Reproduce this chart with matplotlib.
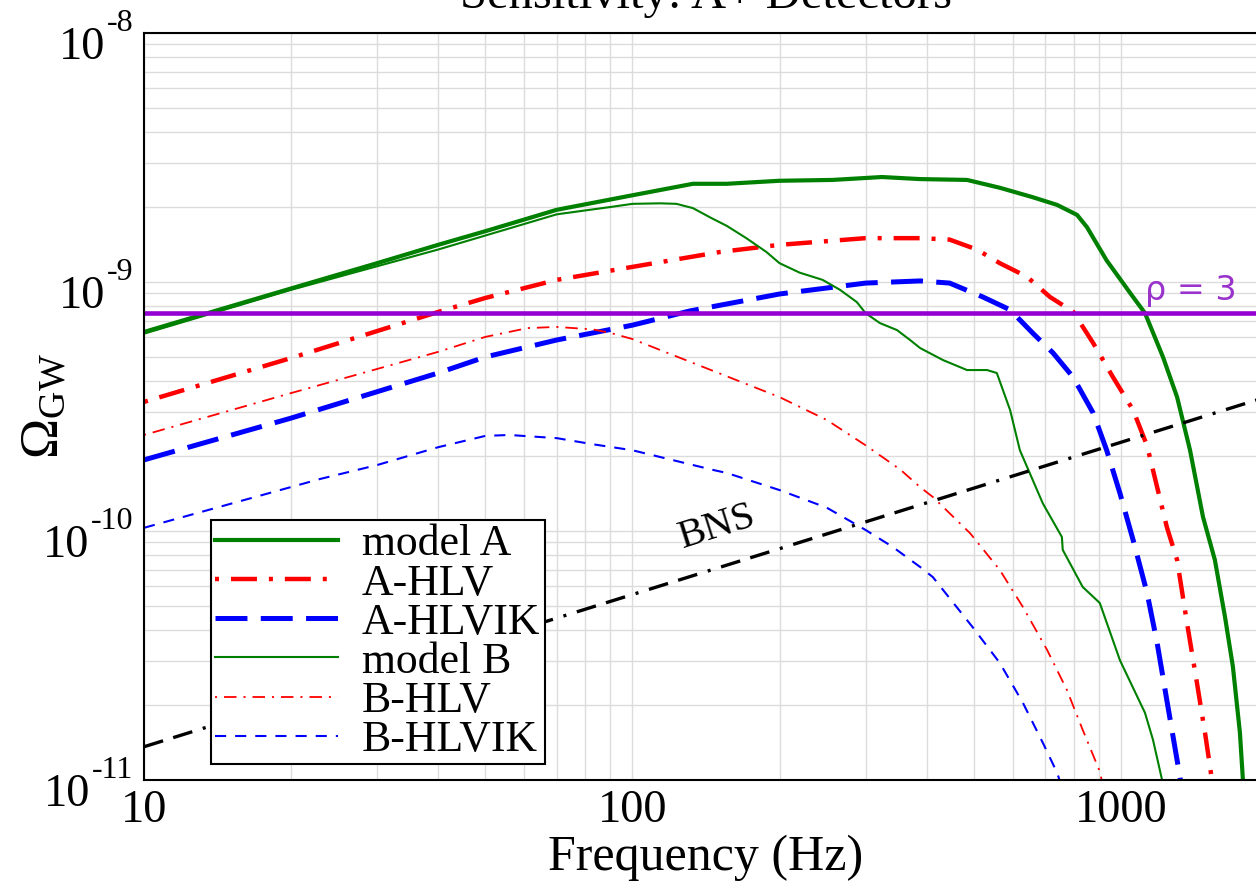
import numpy as np
import matplotlib
matplotlib.use('Agg')
import matplotlib.pyplot as plt
from matplotlib.ticker import FuncFormatter, NullFormatter, LogLocator
from matplotlib.transforms import offset_copy

# Значения (частота в Гц, Omega_GW)
freq_A = [10, 20, 30, 40, 50, 70, 100, 133, 156, 200, 257, 324, 388, 484, 565, 660,
          740, 813, 852, 935, 1059, 1120, 1219, 1303, 1385, 1472, 1557, 1633, 1695,
          1752, 1777, 1800]
omega_A = [6.3e-10, 9.42e-10, 1.19e-9, 1.41e-9, 1.6e-9, 1.95e-9, 2.23e-9, 2.48e-9,
           2.48e-9, 2.55e-9, 2.57e-9, 2.64e-9, 2.59e-9, 2.57e-9, 2.39e-9, 2.19e-9,
           2.04e-9, 1.86e-9, 1.66e-9, 1.22e-9, 8.7e-10, 7.5e-10, 5.0e-10, 3.45e-10,
           2.11e-10, 1.14e-10, 7.65e-11, 4.52e-11, 2.85e-11, 1.55e-11, 1.0e-11, 7e-12]

freq_A_hlv = [10, 20, 40, 50, 70, 100, 151, 200, 300, 388, 446, 507, 565, 642, 716,
              798, 877, 963, 1059, 1131, 1241, 1303, 1365, 1431, 1486, 1527, 1545]
omega_A_hlv = [3.3e-10, 4.95e-10, 7.58e-10, 8.63e-10, 1.02e-9, 1.15e-9, 1.32e-9,
               1.41e-9, 1.5e-9, 1.5e-9, 1.48e-9, 1.35e-9, 1.19e-9, 1.05e-9, 8.7e-10,
               7.6e-10, 5.69e-10, 4.15e-10, 3.06e-10, 2.2e-10, 1.04e-10, 7.65e-11,
               4.28e-11, 2.45e-11, 1.55e-11, 1.08e-11, 9e-12]

freq_A_hlvik = [10, 20, 40, 50, 70, 100, 131, 200, 300, 388, 446, 522, 593, 660, 726,
                798, 877, 935, 995, 1059, 1131, 1186, 1241, 1310, 1335]
omega_A_hlvik = [1.93e-10, 2.84e-10, 4.31e-10, 5.0e-10, 5.85e-10, 6.71e-10, 7.65e-10,
                 8.95e-10, 9.9e-10, 1.01e-9, 9.9e-10, 8.7e-10, 7.73e-10, 6.23e-10,
                 5.19e-10, 4.15e-10, 2.98e-10, 2.11e-10, 1.42e-10, 9.2e-11, 5.64e-11,
                 3.55e-11, 2.1e-11, 1.13e-11, 9e-12]

freq_B = [10, 20, 40, 70, 90, 100, 114, 123, 133, 144, 156, 171, 188, 200, 220, 245,
          266, 288, 300, 321, 348, 370, 388, 432, 484, 532, 557, 593, 621, 692, 757,
          760, 835, 905, 995, 1120, 1163, 1214, 1240]
omega_B = [6.2e-10, 9.3e-10, 1.35e-9, 1.87e-9, 2.0e-9, 2.06e-9, 2.07e-9, 2.06e-9,
           1.98e-9, 1.82e-9, 1.68e-9, 1.5e-9, 1.32e-9, 1.19e-9, 1.09e-9, 1.02e-9,
           9.3e-10, 8.3e-10, 7.5e-10, 6.84e-10, 6.41e-10, 5.85e-10, 5.43e-10, 4.86e-10,
           4.43e-10, 4.43e-10, 4.31e-10, 3.06e-10, 2.11e-10, 1.29e-10, 9.46e-11,
           8.4e-11, 5.96e-11, 5.14e-11, 3.03e-11, 1.86e-11, 1.45e-11, 1.0e-11, 8e-12]

freq_B_hlv = [10, 20, 40, 50, 61, 70, 83, 90, 100, 133, 200, 250, 300, 354, 388, 412,
              491, 565, 630, 706, 775, 835, 902, 920]
omega_B_hlv = [2.43e-10, 3.58e-10, 5.24e-10, 6.02e-10, 6.53e-10, 6.6e-10, 6.45e-10,
               6.25e-10, 5.9e-10, 4.73e-10, 3.45e-10, 2.79e-10, 2.21e-10, 1.76e-10,
               1.5e-10, 1.37e-10, 9.8e-11, 6.97e-11, 4.95e-11, 3.33e-11, 2.3e-11,
               1.59e-11, 1.1e-11, 9.5e-12]

freq_B_hlvik = [10, 23, 30, 40, 50, 56, 70, 83, 100, 146, 156, 200, 250, 300, 341, 388,
                412, 497, 565, 630, 692, 740, 755]
omega_B_hlvik = [1.03e-10, 1.62e-10, 1.84e-10, 2.17e-10, 2.41e-10, 2.43e-10, 2.36e-10,
                 2.23e-10, 2.11e-10, 1.76e-10, 1.71e-10, 1.46e-10, 1.24e-10, 1.01e-10,
                 8.63e-11, 7.17e-11, 6.53e-11, 4.11e-11, 2.95e-11, 2.04e-11, 1.41e-11,
                 1.07e-11, 9.5e-12]

freq_bns = [10, 2000]
omega_bns = [1.36e-11, 3.47e-10]

rho3_level = 7.5e-10
y_exponents = [-8, -9, -10, -11]

# Шрифты в стиле Times
plt.rcParams['font.family'] = 'Liberation Serif'
plt.rcParams['mathtext.fontset'] = 'custom'
plt.rcParams['mathtext.rm'] = 'Liberation Serif'
plt.rcParams['mathtext.it'] = 'Liberation Serif:italic'
plt.rcParams['mathtext.bf'] = 'Liberation Serif:bold'
plt.rcParams['lines.scale_dashes'] = False

fig = plt.figure(figsize=(12.56, 8.81), dpi=100)
ax = fig.add_axes([144/1256, 1 - 780/881, 1124/1256, 747/881])
ax.set_xscale('log')
ax.set_yscale('log')

ax.plot(freq_A, omega_A, color='green', lw=3.0, label='model A')
ax.plot(freq_A_hlv, omega_A_hlv, color='red', lw=3.2,
        ls=(0, (2.9, 8.6, 18.7, 8.6)), label='A-HLV')
ax.plot(freq_A_hlvik, omega_A_hlvik, color='blue', lw=3.6,
        ls=(0, (23, 9.6)), label='A-HLVIK')
ax.plot(freq_B, omega_B, color='green', lw=1.5, label='model B')
ax.plot(freq_B_hlv, omega_B_hlv, color='red', lw=1.3,
        ls=(0, (1.5, 5, 9, 5)), label='B-HLV')
ax.plot(freq_B_hlvik, omega_B_hlvik, color='blue', lw=1.5,
        ls=(0, (8, 6.5)), label='B-HLVIK')
ax.plot(freq_bns, omega_bns, color='black', lw=2.4,
        ls=(0, (14.4, 7.6, 14.4, 7.9, 2.2, 7.9)))
ax.axhline(rho3_level, color='#9400d3', lw=3.3)

ax.text(149, 1.04e-10, 'BNS', rotation=17.5, ha='center', va='center',
        rotation_mode='anchor', fontsize=29)
ax.text(1119, 8.47e-10, 'ρ = 3', color='#9933cc', fontsize=24,
        family='DejaVu Sans', ha='left', va='baseline')

ax.set_xlim(10, 2000)
ax.set_ylim(1e-11, 1e-8)

# Сетка и подписи осей
ax.grid(True, which='both', color='#dcdcdc', lw=1.0)
ax.set_axisbelow(True)
ax.yaxis.set_minor_locator(LogLocator(base=10, subs=np.arange(2, 10), numticks=100))
ax.xaxis.set_minor_locator(LogLocator(base=10, subs=np.arange(2, 10), numticks=100))
ax.xaxis.set_major_formatter(FuncFormatter(lambda v, p: f'{v:g}'))
ax.xaxis.set_minor_formatter(NullFormatter())
ax.yaxis.set_major_formatter(NullFormatter())
ax.yaxis.set_minor_formatter(NullFormatter())
ax.tick_params(which='both', length=0, pad=7, labelsize=33.5)

# Подписи оси Y: "10" и поднятая степень отдельным текстом
renderer = fig.canvas.get_renderer()
ytrans = ax.get_yaxis_transform()
for e in y_exponents:
    sup = ax.text(0, 10.0**e, f'-{abs(e)}', ha='right', va='baseline', fontsize=23,
                  transform=offset_copy(ytrans, fig=fig, x=-11, y=2, units='dots'))
    w = sup.get_window_extent(renderer=renderer).width
    ax.text(0, 10.0**e, '10', ha='right', va='baseline', fontsize=33.5,
            transform=offset_copy(ytrans, fig=fig, x=-11 - w - 1, y=-26, units='dots'))

for sp in ax.spines.values():
    sp.set_linewidth(1.5)
    sp.set_color('black')

ax.set_xlabel('Frequency (Hz)', fontsize=36)
ax.xaxis.set_label_coords(0.5, -0.0736)
ax.set_ylabel(r'$\Omega_{\rm GW}$', fontsize=39)
ax.yaxis.set_label_coords(-0.066, 0.5)

fig.text(706/1256, 1 - 8/881, 'Sensitivity: A+ Detectors', ha='center',
         va='baseline', fontsize=35)

leg = ax.legend(loc='upper left', bbox_to_anchor=(211/1256, 1 - 520/881),
                bbox_transform=fig.transFigure, fontsize=31.5, handlelength=2.8,
                handletextpad=0.55, borderpad=0.1, labelspacing=-0.02,
                borderaxespad=0, fancybox=False, framealpha=1, edgecolor='black')
leg.get_frame().set_linewidth(1.5)

fig.savefig('out.png', dpi=100)
